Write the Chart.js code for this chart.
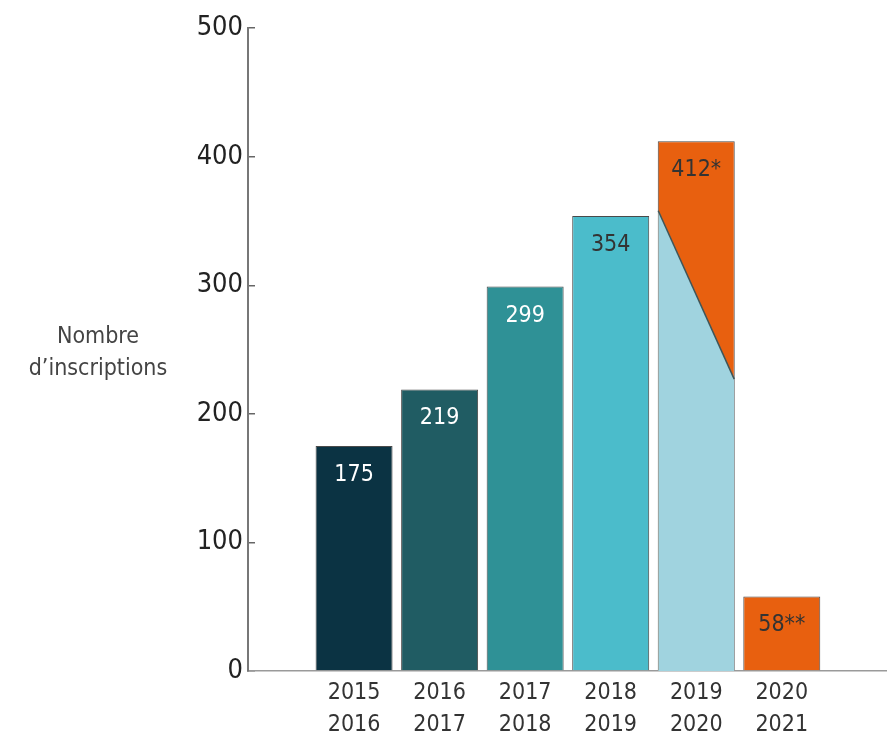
<!DOCTYPE html>
<html>
<head>
<meta charset="utf-8">
<script src="https://cdn.jsdelivr.net/npm/chart.js@4.4.1/dist/chart.umd.min.js"></script>
<style>
  html, body { margin: 0; padding: 0; background: #fff; }
  .wrap { width: 887px; height: 741px; position: relative; }
</style>
</head>
<body>
<div class="wrap"><canvas id="chart"></canvas></div>
<script>
const FONT = "'Liberation Sans Narrow', 'DejaVu Sans Condensed', 'Roboto Condensed', sans-serif";

const categories = [['2015', '2016'], ['2016', '2017'], ['2017', '2018'], ['2018', '2019'], ['2019', '2020'], ['2020', '2021']];
const inscriptions = [175, 219, 299, 354, 412, 58];
const valueLabels = ['175', '219', '299', '354', '412*', '58**'];
const barColors = ['#0b3343', '#205c63', '#2f9196', '#4bbccb', '#e8600f', '#e8600f'];
const labelColors = ['#fff', '#fff', '#fff', '#333', '#333', '#333'];
// partie "réelle" de 2019-2020 (bord gauche -> bord droit de la barre)
const partX = [3.556, 4.444];
const partValues = [358, 227];
const yTicks = [0, 100, 200, 300, 400, 500];
const axisTitle = ['Nombre', 'd\u2019inscriptions'];

// libellés des valeurs dans les barres
const valueLabelPlugin = {
  id: 'valueLabels',
  afterDatasetsDraw(chart) {
    const meta = chart.getDatasetMeta(0);
    const ctx = chart.ctx;
    ctx.save();
    ctx.font = '23px ' + FONT;
    ctx.textAlign = 'center';
    ctx.textBaseline = 'middle';
    meta.data.forEach((bar, i) => {
      ctx.fillStyle = labelColors[i];
      ctx.fillText(valueLabels[i], bar.x, bar.y + 29);
    });
    ctx.restore();
  }
};

// titre de l'axe, horizontal à gauche
const axisTitlePlugin = {
  id: 'axisTitle',
  afterDraw(chart) {
    const ctx = chart.ctx;
    const area = chart.chartArea;
    const mid = (area.top + area.bottom) / 2;
    ctx.save();
    ctx.font = '23px ' + FONT;
    ctx.fillStyle = '#444';
    ctx.textAlign = 'center';
    ctx.textBaseline = 'middle';
    ctx.fillText(axisTitle[0], 98, mid - 13);
    ctx.fillText(axisTitle[1], 98, mid + 19);
    ctx.restore();
  }
};

new Chart(document.getElementById('chart'), {
  type: 'bar',
  data: {
    datasets: [
      {
        type: 'bar',
        data: inscriptions.map((v, i) => ({ x: i, y: v })),
        backgroundColor: barColors,
        borderColor: '#4a4a4a',
        borderWidth: 1,
        barPercentage: 0.9,
        categoryPercentage: 1,
        order: 2
      },
      {
        type: 'line',
        data: partX.map((x, i) => ({ x: x, y: partValues[i] })),
        borderColor: '#3f5558',
        borderWidth: 1.5,
        backgroundColor: '#a0d3df',
        fill: 'origin',
        pointRadius: 0,
        tension: 0,
        order: 1
      }
    ]
  },
  options: {
    responsive: true,
    maintainAspectRatio: false,
    animation: false,
    layout: { padding: { top: 24, left: 10, right: 0, bottom: 0 } },
    plugins: {
      legend: { display: false },
      tooltip: { enabled: false }
    },
    scales: {
      x: {
        type: 'linear',
        offset: false,
        min: -1.24,
        max: 6.23,
        afterBuildTicks: (scale) => {
          scale.ticks = categories.map((_, i) => ({ value: i }));
        },
        afterFit: (scale) => { scale.height = 70; },
        ticks: {
          callback: (v) => categories[v],
          color: '#333',
          font: { family: FONT, size: 23, lineHeight: 1.4 },
          padding: 6,
          maxRotation: 0,
          autoSkip: false
        },
        grid: { display: true, drawOnChartArea: false, drawTicks: false },
        border: { color: '#9a9a9a', width: 1.5 }
      },
      y: {
        min: 0,
        max: 500,
        afterBuildTicks: (scale) => {
          scale.ticks = yTicks.map(v => ({ value: v }));
        },
        afterFit: (scale) => { scale.width = 238; },
        ticks: {
          color: '#222',
          font: { family: FONT, size: 27 },
          padding: 12
        },
        grid: { drawOnChartArea: false, drawTicks: true, tickLength: -7, color: '#666', lineWidth: 1.5 },
        border: { color: '#777', width: 2 }
      }
    }
  },
  plugins: [valueLabelPlugin, axisTitlePlugin]
});
</script>
</body>
</html>
